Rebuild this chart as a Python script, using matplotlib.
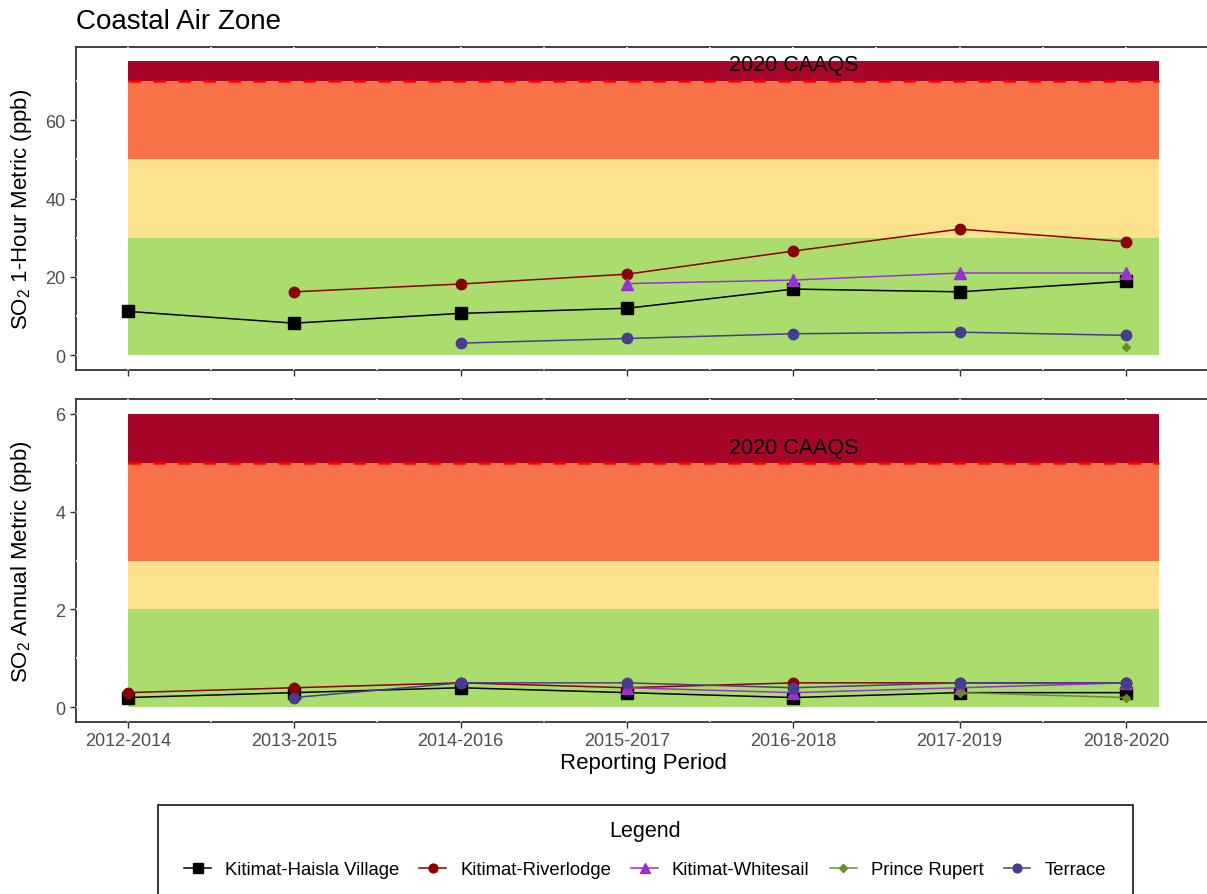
import numpy as np
import matplotlib.pyplot as plt
from matplotlib.lines import Line2D
from matplotlib.patches import Rectangle

plt.rcParams['font.family'] = ['Liberation Sans', 'DejaVu Sans']
plt.rcParams['mathtext.fontset'] = 'custom'
plt.rcParams['mathtext.rm'] = 'Liberation Sans'
plt.rcParams['mathtext.default'] = 'regular'

# Reporting periods and station series
periods = ['2012-2014', '2013-2015', '2014-2016', '2015-2017',
           '2016-2018', '2017-2019', '2018-2020']
nan = np.nan

stations = ['Kitimat-Haisla Village', 'Kitimat-Riverlodge', 'Kitimat-Whitesail',
            'Prince Rupert', 'Terrace']
colors = ['black', '#8B0000', '#9932CC', '#6B8E23', '#483D8B']
markers = ['s', 'o', '^', 'D', 'o']
msizes = [8, 7.5, 8, 4.5, 7.5]

# SO2 1-hour metric (ppb)
haisla_1hr = [11.2, 8.2, 10.7, 12.0, 16.9, 16.2, 18.9]
riverlodge_1hr = [nan, 16.2, 18.2, 20.7, 26.6, 32.2, 29.0]
whitesail_1hr = [nan, nan, nan, 18.3, 19.2, 21.0, 21.0]
rupert_1hr = [nan, nan, nan, nan, nan, nan, 2.0]
terrace_1hr = [nan, nan, 3.1, 4.3, 5.5, 5.9, 5.1]

# SO2 annual metric (ppb)
haisla_ann = [0.2, 0.3, 0.4, 0.3, 0.2, 0.3, 0.3]
riverlodge_ann = [0.3, 0.4, 0.5, 0.4, 0.5, 0.5, 0.5]
whitesail_ann = [nan, nan, nan, 0.4, 0.3, 0.4, 0.5]
rupert_ann = [nan, nan, nan, nan, nan, 0.3, 0.2]
terrace_ann = [nan, 0.2, 0.5, 0.5, 0.4, 0.5, 0.5]

# management level bands: lower edges, upper edges
bands_1hr = [0, 30, 50, 70, 75]
bands_ann = [0, 2, 3, 5, 6]
band_colors = ['#ABDD6E', '#FDE18C', '#F87248', '#A7052A']
caaqs_1hr = 70
caaqs_ann = 5

W, H = 1207, 895
fig = plt.figure(figsize=(W / 100, H / 100), dpi=100)


def fx(px):
    return px / W


def fy(py):
    return 1 - py / H


x = np.arange(len(periods))


def panel(top, bottom, series, bands, caaqs, ylim, yticks, ylabel):
    ax = fig.add_axes([fx(76), fy(bottom), fx(1210 - 76), (bottom - top) / H])
    ax.set_xlim(-0.312, 6.505)
    ax.set_ylim(*ylim)

    # white grid lines, only visible where they cross the frame
    step = yticks[1] - yticks[0]
    for yv in np.arange(yticks[0], ylim[1], step / 2):
        ax.axhline(yv, color='white', lw=1.2, zorder=2.6)
    for xv in np.arange(0, 7, 0.5):
        ax.axvline(xv, color='white', lw=1.2, zorder=2.6)

    for i in range(len(bands) - 1):
        ax.fill_between([0, 6.2], bands[i], bands[i + 1], color=band_colors[i],
                        lw=0, zorder=3)
    ax.plot([0, 6.2], [caaqs, caaqs], color='red', lw=1.8,
            dashes=(5, 5), zorder=3.5)
    ax.text(4, caaqs * 1.06, '2020 CAAQS', ha='center', va='center',
            fontsize=15.5, color='black', zorder=6)

    for vals, c, m, ms in zip(series, colors, markers, msizes):
        ax.plot(x, vals, color=c, marker=m, markersize=ms, lw=1.1, zorder=5)

    ax.set_xticks(x)
    ax.set_yticks(yticks)
    ax.tick_params(colors='#333333', labelcolor='#4D4D4D', labelsize=13,
                   length=4, width=1)
    for s in ax.spines.values():
        s.set_color('#333333')
        s.set_linewidth(1.3)
    ax.spines['right'].set_visible(False)
    fig.text(fx(22), fy((top + bottom) / 2), ylabel, rotation=90,
             ha='center', va='center', fontsize=16)
    return ax


ax1 = panel(47.7, 371,
            [haisla_1hr, riverlodge_1hr, whitesail_1hr, rupert_1hr, terrace_1hr],
            bands_1hr, caaqs_1hr, (-3.75, 78.75), [0, 20, 40, 60],
            r'SO$_2$ 1-Hour Metric (ppb)')
ax1.set_xticklabels([])

ax2 = panel(400, 723,
            [haisla_ann, riverlodge_ann, whitesail_ann, rupert_ann, terrace_ann],
            bands_ann, caaqs_ann, (-0.3, 6.3), [0, 2, 4, 6],
            r'SO$_2$ Annual Metric (ppb)')
ax2.set_xticklabels(periods)
ax2.set_xlabel('Reporting Period', fontsize=16, labelpad=2)

fig.text(fx(76), fy(22), 'Coastal Air Zone', ha='left', va='center', fontsize=20)

# legend box, title and entries
handles = [Line2D([], [], color=c, marker=m, markersize=ms * 0.85, lw=1.1)
           for c, m, ms in zip(colors, markers, msizes)]
fig.add_artist(Rectangle((fx(158), -0.05), fx(1133 - 158), fy(806) + 0.05,
                         transform=fig.transFigure, fill=False,
                         edgecolor='black', lw=1.1))
fig.text(fx(645), fy(832), 'Legend', ha='center', va='center', fontsize=15.5)
fig.legend(handles, stations, loc='center', bbox_to_anchor=(fx(645), fy(871)),
           ncol=5, frameon=False, fontsize=13.3, handlelength=1.45,
           columnspacing=1.1, handletextpad=0.75)

fig.savefig('out.png', dpi=100)
